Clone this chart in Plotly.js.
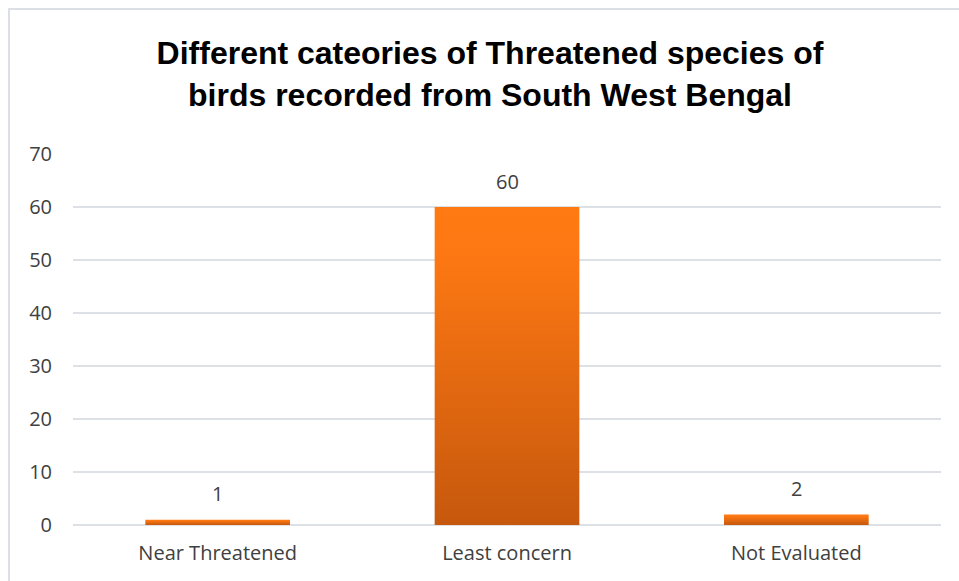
<!DOCTYPE html>
<html>
<head>
<meta charset="utf-8">
<script src="https://cdn.plot.ly/plotly-3.0.1.min.js"></script>
<style>
  html, body { margin: 0; padding: 0; background: #fff; }
  #chart { width: 959px; height: 581px; }
</style>
</head>
<body>
<div id="chart"></div>
<script>
const categories = ["Near Threatened", "Least concern", "Not Evaluated"];
const speciesCounts = [1, 60, 2];
const yTickValues = [0, 10, 20, 30, 40, 50, 60, 70];

const W = 959, H = 581;
const M = { l: 73, r: 18, t: 154, b: 56 };
const pw = W - M.l - M.r, ph = H - M.t - M.b;
const px = v => (v - M.l) / pw;
const py = v => (H - M.b - v) / ph;

const trace = {
  type: "bar",
  x: categories,
  y: speciesCounts,
  width: 0.5,
  marker: { color: "#E8700F", line: { width: 0 } },
  hoverinfo: "none"
};

const annotations = categories.map((c, i) => ({
  x: c, y: speciesCounts[i], xref: "x", yref: "y",
  text: String(speciesCounts[i]), showarrow: false,
  yanchor: "middle", yshift: 26,
  font: { family: "Open Sans, Noto Sans, sans-serif", size: 20, color: "#404040" }
}));

const layout = {
  width: W, height: H,
  margin: M,
  paper_bgcolor: "#ffffff",
  plot_bgcolor: "#ffffff",
  showlegend: false,
  title: {
    text: "Different cateories of Threatened species of<br>birds recorded from South West Bengal",
    x: 490 / W, xanchor: "center", xref: "container",
    y: 1 - 64 / H, yanchor: "top", yref: "container",
    font: { family: "Liberation Sans, Arial, sans-serif", size: 32, weight: 700, color: "#000000" }
  },
  xaxis: {
    type: "category",
    showgrid: false, zeroline: false, showline: false, ticks: "",
    ticklabelstandoff: 14,
    tickfont: { family: "Open Sans, Noto Sans, sans-serif", size: 20, color: "#404040" }
  },
  yaxis: {
    range: [0, 70],
    tickvals: yTickValues,
    ticktext: yTickValues.map(String),
    showgrid: true, gridcolor: "#DDE0E5", gridwidth: 1.5,
    zeroline: true, zerolinecolor: "#DDE0E5", zerolinewidth: 1.5,
    showline: false, ticks: "",
    ticklabelstandoff: 20,
    tickfont: { family: "Open Sans, Noto Sans, sans-serif", size: 20, color: "#404040" }
  },
  annotations: annotations,
  shapes: [{
    type: "rect", xref: "paper", yref: "paper", layer: "below",
    x0: px(9), x1: px(975), y0: py(600), y1: py(9),
    line: { color: "#DCE0E6", width: 2 }, fillcolor: "rgba(0,0,0,0)"
  }]
};

Plotly.newPlot("chart", [trace], layout, { staticPlot: true, displayModeBar: false }).then(gd => {
  const svg = gd.querySelector("svg.main-svg");
  const ns = "http://www.w3.org/2000/svg";
  let defs = svg.querySelector("defs");
  if (!defs) { defs = document.createElementNS(ns, "defs"); svg.insertBefore(defs, svg.firstChild); }
  const g = document.createElementNS(ns, "linearGradient");
  g.setAttribute("id", "barGrad");
  g.setAttribute("x1", "0"); g.setAttribute("y1", "0");
  g.setAttribute("x2", "0"); g.setAttribute("y2", "1");
  [["0", "#FF7A12"], ["0.15", "#FD7813"], ["1", "#C6580D"]].forEach(([o, c]) => {
    const s = document.createElementNS(ns, "stop");
    s.setAttribute("offset", o); s.setAttribute("stop-color", c);
    g.appendChild(s);
  });
  defs.appendChild(g);
  gd.querySelectorAll(".bars .point path").forEach(p => { p.style.fill = "url(#barGrad)"; });
});
</script>
</body>
</html>
